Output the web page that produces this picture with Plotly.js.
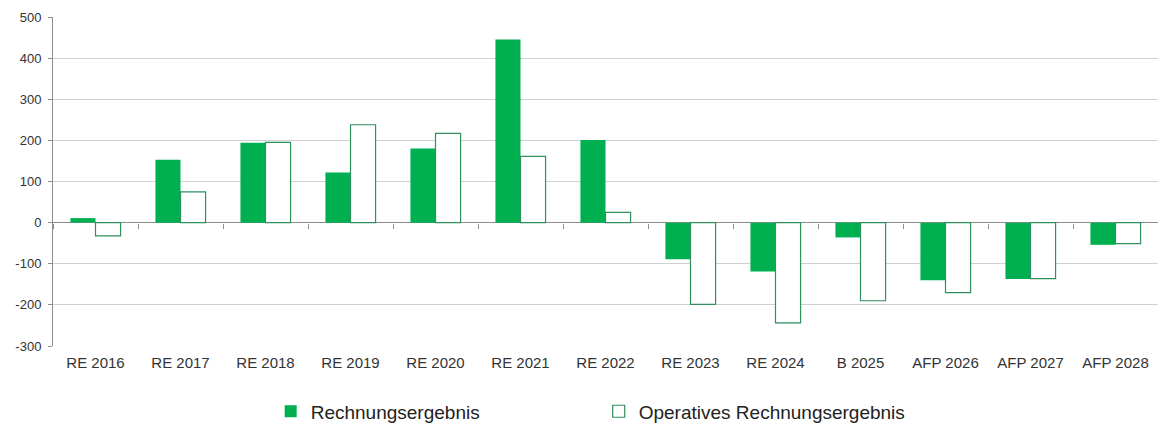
<!DOCTYPE html>
<html>
<head>
<meta charset="utf-8">
<script src="https://cdn.plot.ly/plotly-3.0.1.min.js"></script>
<style>
html,body{margin:0;padding:0;background:#fff;}
#chart{width:1158px;height:425px;}
</style>
</head>
<body>
<div id="chart"></div>
<script>
const categories = ["RE 2016","RE 2017","RE 2018","RE 2019","RE 2020","RE 2021","RE 2022","RE 2023","RE 2024","B 2025","AFP 2026","AFP 2027","AFP 2028"];
const rechnungsergebnis = [11, 153, 194, 122, 180, 445, 201, -89, -119, -36, -140, -137, -54];
const operativesErgebnis = [-32, 75, 195, 238, 217, 161, 25, -199, -244, -190, -170, -136, -51];
const yTicks = [-300, -200, -100, 0, 100, 200, 300, 400, 500];
const seriesNames = ["Rechnungsergebnis", "Operatives Rechnungsergebnis"];

const green = "#00B050";
const outline = "#2F8F5E";
const font = "Liberation Sans, Arial, sans-serif";

const traces = [
  {
    type: "bar", name: seriesNames[0], x: categories, y: rechnungsergebnis,
    marker: {color: green, line: {width: 0}},
    hoverinfo: "x+y"
  },
  {
    type: "bar", name: seriesNames[1], x: categories, y: operativesErgebnis,
    marker: {color: "#ffffff", line: {color: outline, width: 1.2}},
    hoverinfo: "x+y"
  },
  {
    type: "scatter", mode: "markers", x: categories, y: categories.map(() => null),
    xaxis: "x2", yaxis: "y", showlegend: false, hoverinfo: "skip"
  }
];

const catRange = [-0.5, categories.length - 0.5];

const layout = {
  width: 1158, height: 425,
  margin: {l: 53, r: 0, t: 17, b: 79},
  paper_bgcolor: "#ffffff", plot_bgcolor: "#ffffff",
  font: {family: font, color: "#333333"},
  barmode: "group", bargap: 0.41, bargroupgap: 0,
  showlegend: true,
  legend: {
    orientation: "h", x: 0.197, xanchor: "left",
    yref: "container", y: 0.032, yanchor: "middle",
    font: {family: font, size: 19, color: "#222222"},
    entrywidth: 283, traceorder: "normal"
  },
  xaxis: {
    type: "category", categoryorder: "array", categoryarray: categories,
    range: catRange, autorange: false,
    showgrid: false, showline: false, zeroline: false, ticks: "",
    tickfont: {family: font, size: 15, color: "#333333"},
    ticklabelstandoff: 6, fixedrange: true
  },
  xaxis2: {
    type: "category", categoryorder: "array", categoryarray: categories,
    range: catRange, autorange: false,
    overlaying: "x", anchor: "free", position: 0.375, side: "bottom",
    showgrid: false, showline: false, zeroline: false, showticklabels: false,
    ticks: "outside", tickson: "boundaries", ticklen: 5, tickcolor: "#8c8c8c", tickwidth: 1,
    fixedrange: true
  },
  yaxis: {
    range: [-300, 500], autorange: false, tickvals: yTicks, ticktext: yTicks.map(String),
    showgrid: true, gridcolor: "#d0d0d0", gridwidth: 1,
    zeroline: true, zerolinecolor: "#8c8c8c", zerolinewidth: 1,
    showline: true, linecolor: "#8c8c8c", linewidth: 1,
    ticks: "outside", ticklen: 4, tickcolor: "#8c8c8c",
    tickfont: {family: font, size: 13, color: "#333333"},
    ticklabelstandoff: 4, fixedrange: true
  }
};

Plotly.newPlot("chart", traces, layout, {displayModeBar: false, staticPlot: true});
</script>
</body>
</html>
